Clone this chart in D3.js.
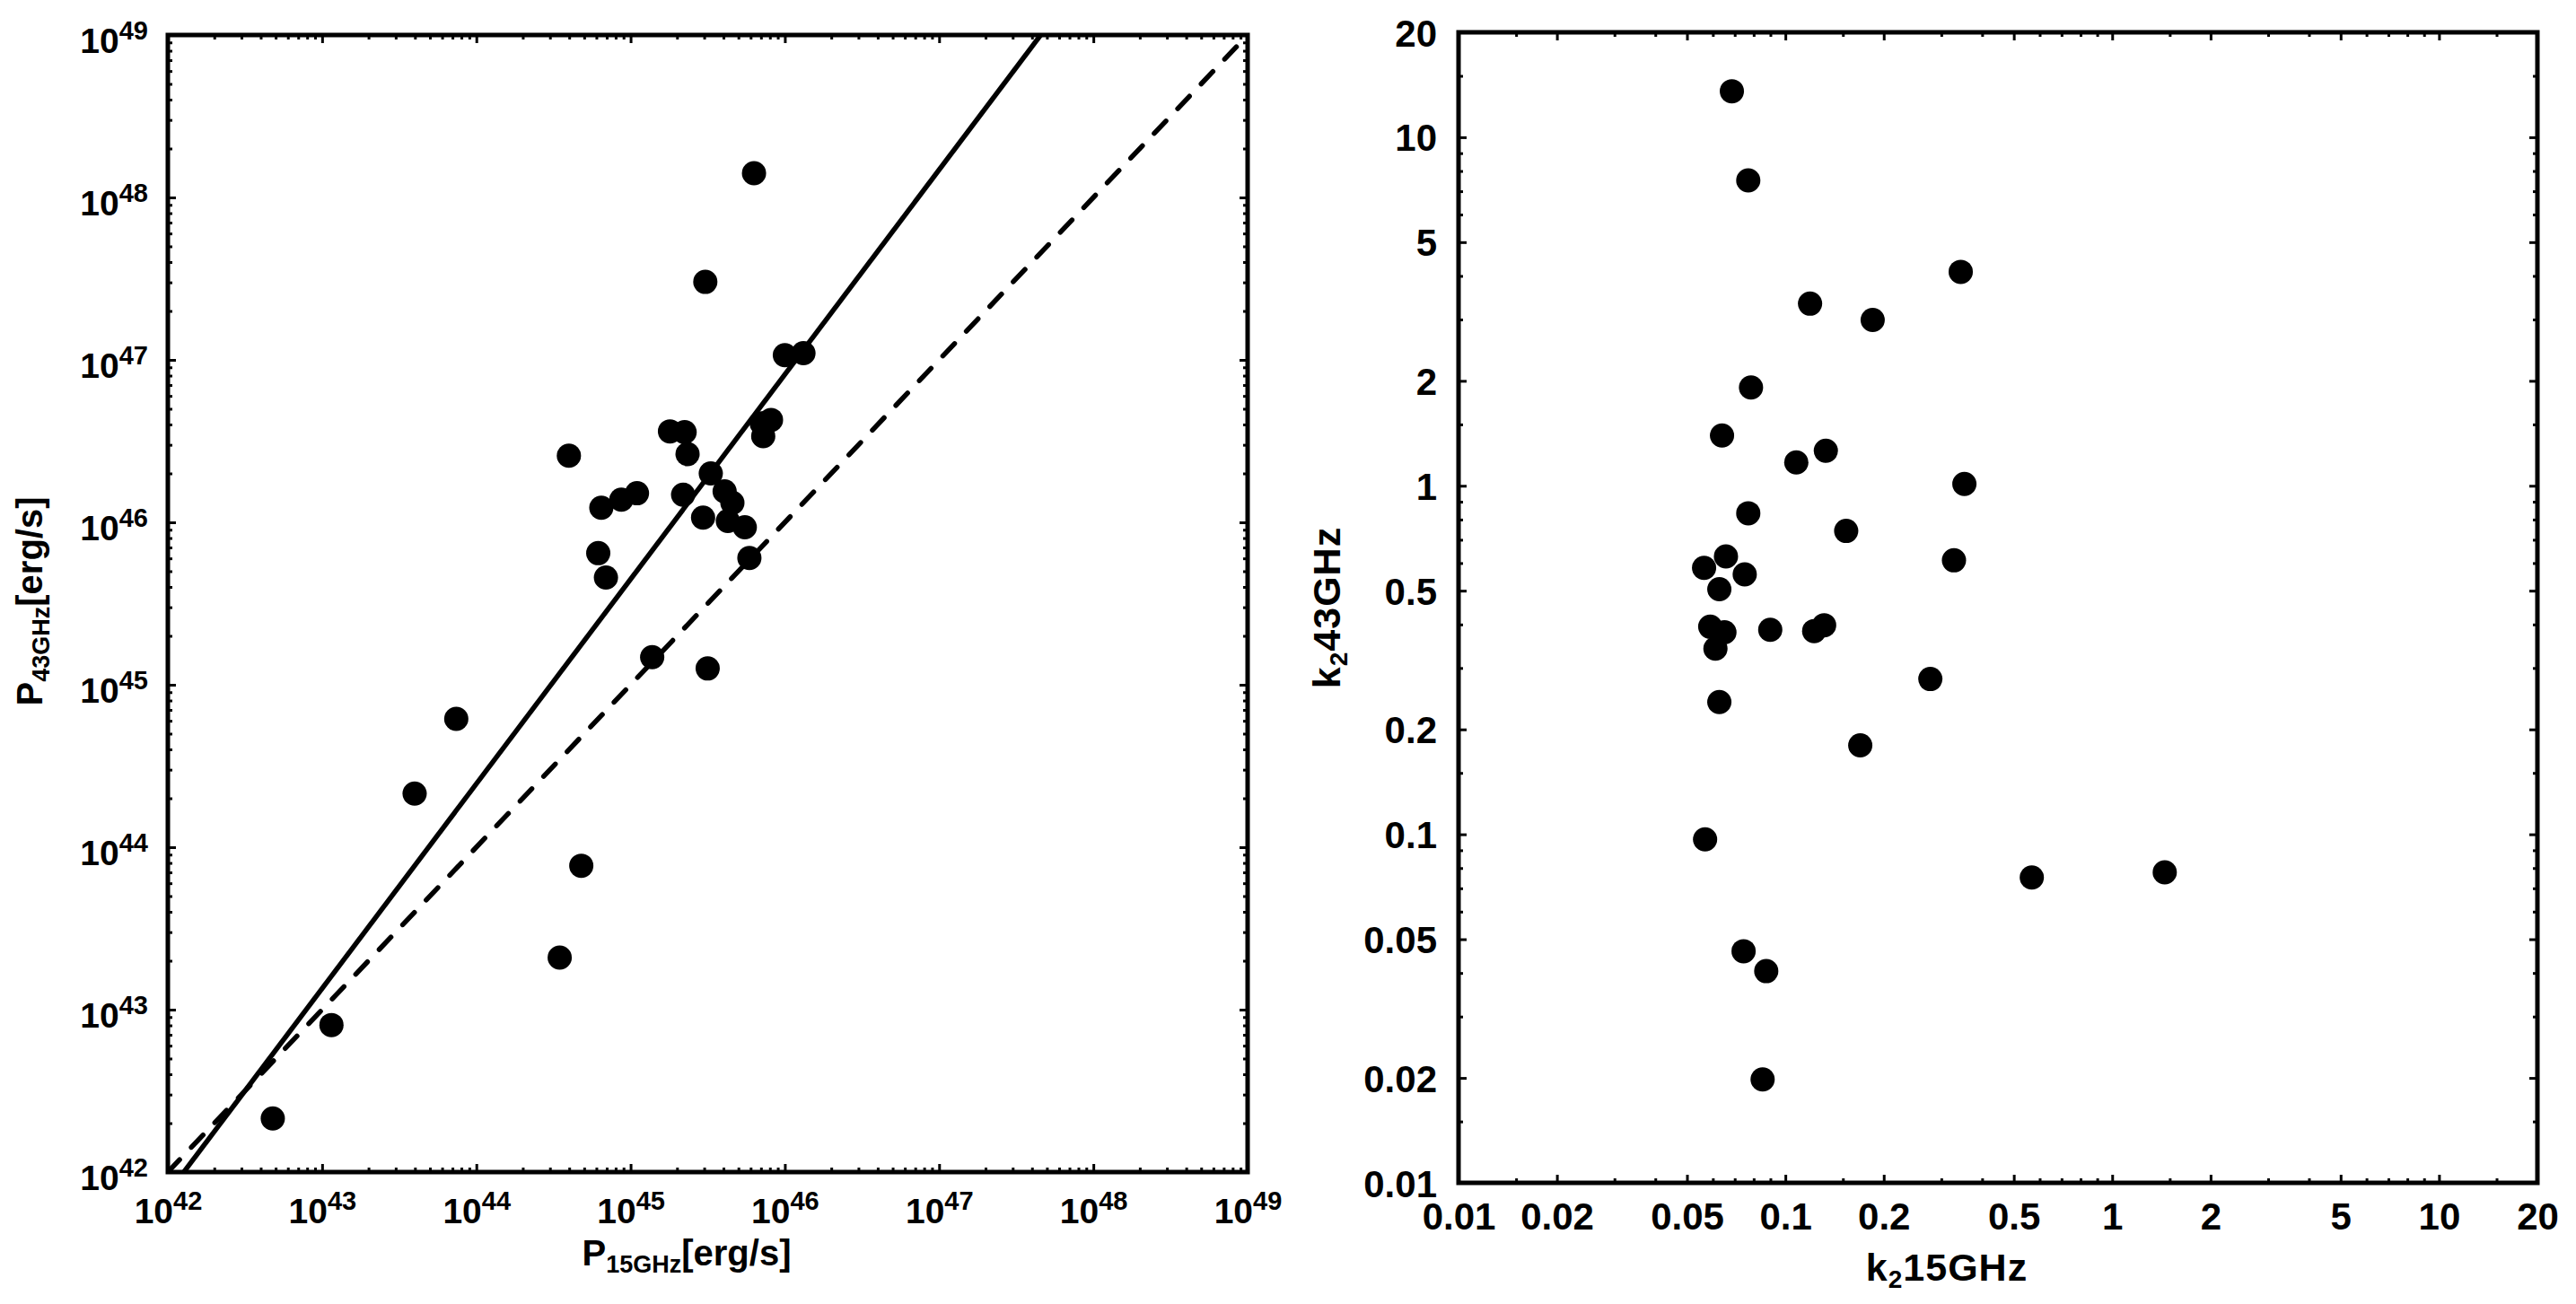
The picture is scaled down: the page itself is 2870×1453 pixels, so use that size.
<!DOCTYPE html>
<html><head><meta charset="utf-8">
<script src="https://cdn.jsdelivr.net/npm/d3@7"></script>
<style>
body{margin:0;background:#fff}
text{font-family:"Liberation Sans Narrow","Liberation Sans",sans-serif;font-weight:bold;fill:#000}
</style>
</head><body>
<svg id="c" width="2870" height="1453"></svg>
<script>
// ---------- data (left panel) ----------
const p15GHz = [4.79e42,1.15e43,3.98e43,7.41e43,3.47e44,4.79e44,3.98e44,6.17e44,6.92e44,6.46e44,8.71e44,1.10e45,1.38e45,1.80e45,2.19e45,2.24e45,2.34e45,3.05e45,2.95e45,3.16e45,3.31e45,4.07e45,4.27e45,4.57e45,5.50e45,5.89e45,6.31e45,7.24e45,7.08e45,8.13e45,1.00e46,1.32e46];
const p43GHz = [2.14e42,8.04e42,2.14e44,6.17e44,2.09e43,7.69e43,2.57e46,6.46e45,4.57e45,1.23e46,1.38e46,1.51e46,1.48e45,3.63e46,1.48e46,3.59e46,2.63e46,3.02e47,1.07e46,1.26e45,2.00e46,1.55e46,1.02e46,1.32e46,9.33e45,6.03e45,1.41e48,3.39e46,4.07e46,4.27e46,1.07e47,1.10e47];
// fitted relation log P43 = slope*log P15 + intercept (solid), and 1:1 line (dashed)
const fitSlope = 1.26, fitIntercept = -11.05;
const oneToOne = [1e42, 1e49];
const leftMajorTicks = [1e42,1e43,1e44,1e45,1e46,1e47,1e48,1e49];
const leftMinorMultipliers = [2,3,4,5,6,7,8,9];

// ---------- data (right panel) ----------
const k2_15GHz = [0.0686,0.0770,0.344,0.119,0.185,0.0785,0.0640,0.108,0.133,0.353,0.0770,0.1535,0.328,0.0658,0.0564,0.0751,0.0628,0.0589,0.0651,0.0611,0.0899,0.1225,0.1314,0.2777,0.0628,0.1695,0.0568,0.5676,1.448,0.0745,0.0874,0.0852];
const k2_43GHz = [13.55,7.52,4.11,3.33,2.99,1.915,1.394,1.167,1.26,1.012,0.834,0.742,0.611,0.627,0.5815,0.557,0.505,0.394,0.380,0.341,0.386,0.383,0.398,0.279,0.2395,0.180,0.0967,0.0752,0.0778,0.0462,0.0405,0.0198];
const rightMajorTicks = [0.01,0.02,0.05,0.1,0.2,0.5,1,2,5,10,20];
const rightMinorTicks = [0.015,0.03,0.04,0.06,0.07,0.08,0.09,0.15,0.3,0.4,0.6,0.7,0.8,0.9,1.5,3,4,6,7,8,9,15];

// ---------- drawing ----------
const svg = d3.select("#c");

function panel(cfg){
  const g = svg.append("g").attr("transform",`translate(${cfg.x0},${cfg.y0})`);
  const W = cfg.x1-cfg.x0, H = cfg.y1-cfg.y0;
  const x = d3.scaleLog().domain(cfg.xd).range([0,W]);
  const y = d3.scaleLog().domain(cfg.yd).range([H,0]);
  const tickAxis = (axis, vals, size) => axis.tickValues(vals).tickSize(size).tickSizeOuter(0).tickFormat("");
  const sets = [[cfg.minorX,cfg.minorY,-5],[cfg.majorX,cfg.majorY,-9]];
  sets.forEach(([vx,vy,s])=>{
    g.append("g").attr("transform",`translate(0,${H})`).call(tickAxis(d3.axisBottom(x),vx,s));
    g.append("g").call(tickAxis(d3.axisTop(x),vx,s));
    g.append("g").call(tickAxis(d3.axisLeft(y),vy,s));
    g.append("g").attr("transform",`translate(${W},0)`).call(tickAxis(d3.axisRight(y),vy,s));
  });
  g.selectAll(".domain").remove();
  g.selectAll(".tick line").attr("stroke","#000").attr("stroke-width",3);
  g.append("rect").attr("width",W).attr("height",H).attr("fill","none").attr("stroke","#000").attr("stroke-width",5);
  return {g,x,y,W,H};
}

// ----- left panel -----
const L = panel({x0:187,y0:39,x1:1390,y1:1306,xd:[1e42,1e49],yd:[1e42,1e49],
  majorX:leftMajorTicks, majorY:leftMajorTicks,
  minorX:leftMajorTicks.slice(0,-1).flatMap(d=>leftMinorMultipliers.map(m=>m*d)),
  minorY:leftMajorTicks.slice(0,-1).flatMap(d=>leftMinorMultipliers.map(m=>m*d))});

function powLabel(sel){
  sel.each(function(d){
    const t = d3.select(this); t.text("");
    const e = Math.round(Math.log10(d));
    t.append("tspan").text("10");
    t.append("tspan").attr("font-size",29).attr("dy",-15).text(e);
  });
}
L.g.append("g").attr("transform",`translate(0,${L.H})`)
  .call(d3.axisBottom(L.x).tickValues(leftMajorTicks).tickSize(0).tickFormat(d=>d))
  .call(a=>a.select(".domain").remove())
  .selectAll("text").attr("y",57).attr("dy",null).attr("font-size",39).call(powLabel);
L.g.append("g")
  .call(d3.axisLeft(L.y).tickValues(leftMajorTicks).tickSize(0).tickFormat(d=>d))
  .call(a=>a.select(".domain").remove())
  .selectAll("text").attr("x",-22).attr("y",19).attr("dy",null).attr("font-size",39).call(powLabel);

const clip = L.g.append("clipPath").attr("id","clipL");
clip.append("rect").attr("width",L.W).attr("height",L.H);
const line = d3.line().x(d=>L.x(d[0])).y(d=>L.y(d[1]));
const fitPts = oneToOne.map(v=>[v, Math.pow(10, fitSlope*Math.log10(v)+fitIntercept)]);
L.g.append("path").attr("clip-path","url(#clipL)").attr("d",line(fitPts))
  .attr("fill","none").attr("stroke","#000").attr("stroke-width",5.5);
L.g.append("path").attr("clip-path","url(#clipL)").attr("d",line(oneToOne.map(v=>[v,v])))
  .attr("fill","none").attr("stroke","#000").attr("stroke-width",5.5)
  .attr("stroke-dasharray","19,19").attr("stroke-linecap","round");
L.g.selectAll("circle.pt").data(p15GHz.map((v,i)=>[v,p43GHz[i]])).join("circle")
  .attr("class","pt").attr("cx",d=>L.x(d[0])).attr("cy",d=>L.y(d[1])).attr("r",13.5).attr("fill","#000");

// axis titles left
const tx = svg.append("text").attr("x",765).attr("y",1410).attr("text-anchor","middle").attr("font-size",40);
tx.append("tspan").text("P");
tx.append("tspan").attr("font-size",27).attr("dy",8).text("15GHz");
tx.append("tspan").attr("dy",-8).text("[erg/s]");
const ty = svg.append("text").attr("transform","translate(47,670) rotate(-90)").attr("text-anchor","middle").attr("font-size",40);
ty.append("tspan").text("P");
ty.append("tspan").attr("font-size",27).attr("dy",8).text("43GHz");
ty.append("tspan").attr("dy",-8).text("[erg/s]");

// ----- right panel -----
const R = panel({x0:1625,y0:36,x1:2827,y1:1318,xd:[0.01,20],yd:[0.01,20],
  majorX:rightMajorTicks, majorY:rightMajorTicks, minorX:rightMinorTicks, minorY:rightMinorTicks});
R.g.append("g").attr("transform",`translate(0,${R.H})`)
  .call(d3.axisBottom(R.x).tickValues(rightMajorTicks).tickSize(0).tickFormat(d=>String(d)))
  .call(a=>a.select(".domain").remove())
  .selectAll("text").attr("y",52).attr("dy",null).attr("font-size",42);
R.g.append("g")
  .call(d3.axisLeft(R.y).tickValues(rightMajorTicks).tickSize(0).tickFormat(d=>String(d)))
  .call(a=>a.select(".domain").remove())
  .selectAll("text").attr("x",-24).attr("y",15).attr("dy",null).attr("font-size",42);
R.g.selectAll("circle.pt").data(k2_15GHz.map((v,i)=>[v,k2_43GHz[i]])).join("circle")
  .attr("class","pt").attr("cx",d=>R.x(d[0])).attr("cy",d=>R.y(d[1])).attr("r",13.5).attr("fill","#000");

const rx = svg.append("text").attr("x",2169).attr("y",1427).attr("text-anchor","middle").attr("font-size",43).attr("letter-spacing",1);
rx.append("tspan").text("k");
rx.append("tspan").attr("font-size",28).attr("dy",8).text("2");
rx.append("tspan").attr("dy",-8).text("15GHz");
const ry = svg.append("text").attr("transform","translate(1493,677) rotate(-90)").attr("text-anchor","middle").attr("font-size",43).attr("letter-spacing",1);
ry.append("tspan").text("k");
ry.append("tspan").attr("font-size",28).attr("dy",8).text("2");
ry.append("tspan").attr("dy",-8).text("43GHz");
</script>
</body></html>
